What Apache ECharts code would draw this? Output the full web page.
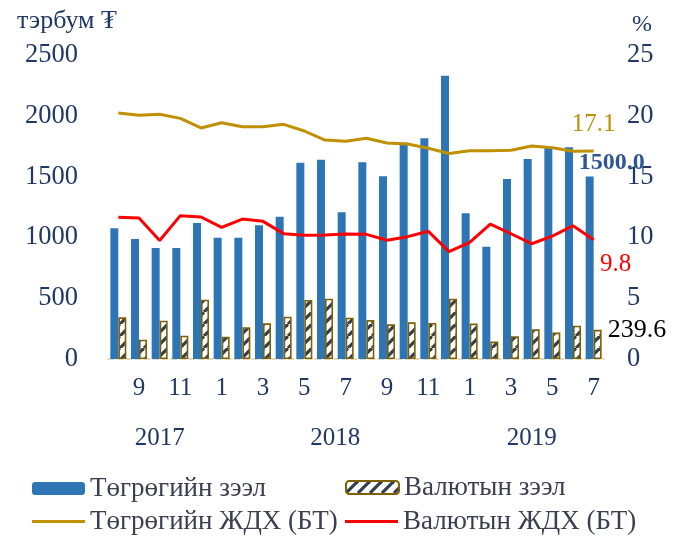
<!DOCTYPE html>
<html>
<head>
<meta charset="utf-8">
<script src="https://cdn.jsdelivr.net/npm/echarts@6/dist/echarts.min.js"></script>
<style>html,body{margin:0;padding:0;background:#fff}#c{width:683px;height:538px}</style>
</head>
<body>
<div id="c"></div>
<script>
// ---- data ----
const periods = ['2017-08','2017-09','2017-10','2017-11','2017-12',
  '2018-01','2018-02','2018-03','2018-04','2018-05','2018-06','2018-07','2018-08','2018-09','2018-10','2018-11','2018-12',
  '2019-01','2019-02','2019-03','2019-04','2019-05','2019-06','2019-07'];
const tugrugLoans = [1075, 987, 913, 913, 1118, 998, 998, 1099, 1170, 1614, 1639, 1206, 1617, 1502, 1779, 1815, 2330, 1198, 924, 1480, 1645, 1741, 1741, 1500.0];
const currencyLoans = [343, 159, 315, 192, 488, 184, 261, 293, 348, 485, 496, 340, 320, 285, 302, 296, 496, 291, 143, 187, 244, 217, 274, 239.6];
const tugrugRate = [20.23, 20.04, 20.12, 19.79, 19.0, 19.43, 19.1, 19.1, 19.3, 18.75, 18.0, 17.9, 18.15, 17.76, 17.68, 17.33, 16.9, 17.13, 17.13, 17.16, 17.52, 17.38, 17.08, 17.1];
const currencyRate = [11.65, 11.6, 9.74, 11.79, 11.68, 10.83, 11.51, 11.32, 10.31, 10.17, 10.2, 10.28, 10.25, 9.77, 10.06, 10.5, 8.83, 9.6, 11.1, 10.3, 9.48, 10.1, 10.96, 9.8];
const leftTicks = [0, 2500, 500];
const rightTicks = [0, 25, 5];
const seriesNames = ['Төгрөгийн зээл', 'Валютын зээл', 'Төгрөгийн ЖДХ (БТ)', 'Валютын ЖДХ (БТ)'];
const unitLeft = 'тэрбум ₮';
const unitRight = '%';

// ---- derived ----
const monthLabels = periods.map(p => String(parseInt(p.split('-')[1], 10)));
const yearGroups = [];
periods.forEach((p, i) => {
  const y = p.split('-')[0];
  let g = yearGroups.find(g => g.year === y);
  if (!g) { g = {year: y, first: i, last: i}; yearGroups.push(g); }
  g.last = i;
});
yearGroups.forEach(g => g.center = (g.first + g.last) / 2);
const lastIdx = periods.length - 1;

// hatch pattern
const pc = document.createElement('canvas');
pc.width = 12; pc.height = 12;
const ctx = pc.getContext('2d');
ctx.fillStyle = '#ffffff'; ctx.fillRect(0, 0, 12, 12);
ctx.strokeStyle = '#333F50'; ctx.lineWidth = 3.2;
for (const o of [-12, 0, 12]) { ctx.beginPath(); ctx.moveTo(o, 12); ctx.lineTo(o + 12, 0); ctx.stroke(); }

const FONT = "'Liberation Serif', 'DejaVu Serif', serif";
const NAVY = '#1F3864';
const LEG = '#3A4050';
const lastOnly = (p) => p.dataIndex === lastIdx ? Number(p.value).toFixed(1) : '';
const legTxt = {fontFamily: FONT, fontSize: 27, color: LEG};

const chart = echarts.init(document.getElementById('c'), null, {renderer: 'canvas'});
chart.setOption({
  backgroundColor: '#ffffff',
  animation: false,
  title: [
    {text: unitLeft, left: 12, top: 3, textStyle: {fontFamily: FONT, fontSize: 26, fontWeight: 'normal', color: NAVY}},
    {text: unitRight, left: 627, top: 8, textStyle: {fontFamily: FONT, fontSize: 24, fontWeight: 'normal', color: NAVY}}
  ],
  grid: {left: 108, right: 79, top: 55, bottom: 179, containLabel: false},
  legend: [
    {data: [seriesNames[0]], left: 32, top: 475, padding: 0, itemWidth: 53, itemHeight: 13, itemGap: 4, textStyle: legTxt},
    {data: [seriesNames[1]], left: 345, top: 474, padding: 0, itemWidth: 53, itemHeight: 13, itemGap: 4, textStyle: legTxt},
    {data: [{name: seriesNames[2], icon: 'rect'}], left: 32, top: 508, padding: 0, itemWidth: 53, itemHeight: 3, itemGap: 4, textStyle: legTxt},
    {data: [{name: seriesNames[3], icon: 'rect'}], left: 345, top: 508, padding: 0, itemWidth: 53, itemHeight: 3, itemGap: 4, textStyle: legTxt}
  ],
  xAxis: [
    {type: 'category', data: periods, boundaryGap: true,
      axisLine: {show: true, lineStyle: {color: '#D9CCA8', width: 1.5, type: 'dashed'}},
      axisTick: {show: false},
      axisLabel: {interval: (i) => i % 2 === 1, formatter: (v, i) => monthLabels[i], margin: 17,
        fontFamily: FONT, fontSize: 25, color: NAVY},
      splitLine: {show: false}},
    {type: 'value', min: -0.5, max: 23.5, position: 'bottom', offset: 50,
      axisLine: {show: false}, axisTick: {show: false}, splitLine: {show: false},
      axisLabel: {customValues: yearGroups.map(g => g.center),
        formatter: (v) => { const g = yearGroups.find(g => Math.abs(g.center - v) < 1e-6); return g ? g.year : ''; },
        margin: 17, fontFamily: FONT, fontSize: 25, color: NAVY}}
  ],
  yAxis: [
    {type: 'value', min: leftTicks[0], max: leftTicks[1], interval: leftTicks[2],
      axisLine: {show: false}, axisTick: {show: false}, splitLine: {show: false},
      axisLabel: {margin: 30, formatter: (v) => String(v), fontFamily: FONT, fontSize: 26.5, color: NAVY}},
    {type: 'value', min: rightTicks[0], max: rightTicks[1], interval: rightTicks[2], position: 'right',
      axisLine: {show: false}, axisTick: {show: false}, splitLine: {show: false},
      axisLabel: {margin: 23, formatter: (v) => String(v), fontFamily: FONT, fontSize: 26.5, color: NAVY}}
  ],
  series: [
    {name: seriesNames[0], type: 'bar', xAxisIndex: 0, yAxisIndex: 0, data: tugrugLoans,
      barWidth: 8, barGap: '0%', itemStyle: {color: '#2E75B6'},
      label: {show: true, position: 'top', distance: 2, offset: [22, 0], formatter: lastOnly,
        fontFamily: FONT, fontSize: 24, fontWeight: 'bold', color: '#2F5597'}},
    {name: seriesNames[1], type: 'bar', xAxisIndex: 0, yAxisIndex: 0, data: currencyLoans,
      barWidth: 8, barGap: '0%',
      itemStyle: {color: {image: pc, repeat: 'repeat'}, borderColor: '#7F6000', borderWidth: 1.6},
      label: {show: true, position: 'right', distance: 6, offset: [0, -14], formatter: lastOnly,
        fontFamily: FONT, fontSize: 26, color: '#000000'}},
    {name: seriesNames[2], type: 'line', xAxisIndex: 0, yAxisIndex: 1, data: tugrugRate,
      symbol: 'circle', symbolSize: 0.01, showSymbol: true,
      lineStyle: {color: '#BF9000', width: 3}, itemStyle: {color: '#BF9000'},
      label: {show: true, position: 'top', distance: 14, formatter: lastOnly,
        fontFamily: FONT, fontSize: 25, color: '#BF9000'}, z: 5},
    {name: seriesNames[3], type: 'line', xAxisIndex: 0, yAxisIndex: 1, data: currencyRate,
      symbol: 'circle', symbolSize: 0.01, showSymbol: true,
      lineStyle: {color: '#FF0000', width: 3}, itemStyle: {color: '#FF0000'},
      label: {show: true, position: 'bottom', distance: 12, offset: [22, 0], formatter: lastOnly,
        fontFamily: FONT, fontSize: 25, color: '#FF0000'}, z: 5}
  ]
});
</script>
</body>
</html>
